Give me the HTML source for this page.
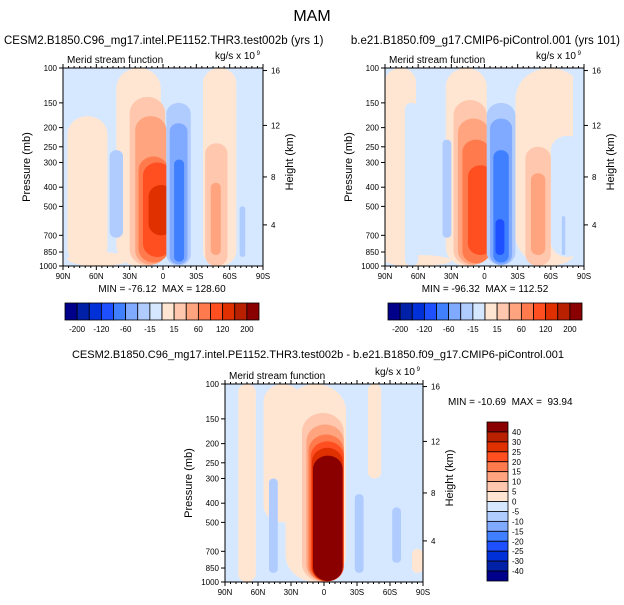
<!DOCTYPE html>
<html><head><meta charset="utf-8"><style>
body{margin:0;background:#fff}
svg{display:block;font-family:"Liberation Sans",sans-serif}
text{white-space:pre}
</style></head><body>
<svg id="c" width="624" height="605" viewBox="0 0 624 605"></svg>
<script>
// Color levels (index 0..15 => navy .. dark red)
const colors=["#00008a","#0020a8","#0030d8","#1e50ff","#4080ff","#80aaff","#b0ccff","#d6e8ff","#ffe6d2","#ffc8ae","#ffa47e","#ff7a4c","#ff4e20","#e03000","#b82000","#8a0000"];
const barLabelsA=["-200","-120","-60","-15","15","60","120","200"];
const barLabelsB=["40","30","25","20","15","10","5","0","-5","-10","-15","-20","-25","-30","-40"];
const pTicks=[100,150,200,250,300,400,500,700,850,1000];
const hTicks=[16,12,8,4];
const hTickP=[103,195,355,620];
const latTicks=[90,60,30,0,-30,-60,-90];
const latLabels=["90N","60N","30N","0","30S","60S","90S"];
// blobs: [latNorth, latSouth, pTop, pBottom, colorLevel]
const field1=[[86,50,175,1000,8],[86,30,850,1000,8],[42,2,100,1000,8],[-36,-66,100,1000,8],
[48,36,260,720,6],[30,-2,140,995,9],[25,-3,175,985,10],[22,-5,280,960,11],[18,-8,300,900,12],[13,-10,390,700,13],
[-3,-25,150,995,6],[-6,-22,190,980,5],[-10,-19,290,950,4],[-38,-58,240,1000,9],[-43,-52,380,880,10],[-69,-74,500,900,6]];
const field2=[[90,62,100,1000,8],[90,30,880,1000,8],[35,-2,100,1000,8],[-28,-90,100,1000,8],
[72,60,150,1000,7],[38,30,230,720,6],[-80,-90,100,1000,7],[-60,-90,220,900,7],
[28,-2,145,995,9],[24,-4,180,985,10],[20,-5,230,970,11],[15,-8,310,880,12],
[-2,-28,150,990,6],[-5,-25,180,985,5],[-8,-22,260,960,4],[-10,-18,580,880,3],
[-37,-60,250,1000,9],[-42,-55,340,880,10],[-70,-73,560,880,6]];
const field3=[[78,62,100,1000,8],[55,20,100,500,8],[35,-20,100,1000,8],[-40,-52,100,300,8],[-80,-90,680,900,8],
[50,42,300,900,6],[28,15,300,900,8],[20,-18,140,1000,9],[16,-18,160,995,10],[14,-18,180,995,11],[12,-18,195,992,12],[11,-17,210,990,13],[10,-17,230,988,15],
[-28,-36,360,900,6],[-62,-70,420,800,6]];

const svg=document.getElementById('c');
const NS="http://www.w3.org/2000/svg";
function el(tag,attrs,parent){const e=document.createElementNS(NS,tag);for(const k in attrs)e.setAttribute(k,attrs[k]);(parent||svg).appendChild(e);return e;}
function txt(x,y,s,size,anchor,parent,rot){const t=el('text',{x:x,y:y,'font-size':size,'text-anchor':anchor||'start',fill:'#000'},parent);if(rot)t.setAttribute('transform','rotate(-90 '+x+' '+y+')');t.textContent=s;return t;}

function panel(id,x0,y0,w,h,field){
  const g=el('g',{});
  
  
  const xs=lat=>x0+(90-lat)/180*w;
  const ys=p=>y0+Math.log(p/100)/Math.log(10)*h;
  const cp=el('clipPath',{id:id+'-clip'},g);
  el('rect',{x:x0,y:y0,width:w,height:h},cp);
  const fg=el('g',{'clip-path':'url(#'+id+'-clip)'},g);
  el('rect',{x:x0,y:y0,width:w,height:h,fill:colors[7]},fg);
  field.forEach(b=>{
    const x1=xs(b[0]),x2=xs(b[1]),y1=ys(b[2]),y2=ys(b[3]);
    const r=el('rect',{x:x1,y:y1,width:x2-x1,height:y2-y1,rx:(x2-x1)/2,ry:Math.min((x2-x1)*0.45,(y2-y1)/2),fill:colors[b[4]]},fg);
    
    
  });
  el('rect',{x:x0,y:y0,width:w,height:h,fill:'none',stroke:'#000','stroke-width':1},g);
  pTicks.forEach(p=>{const y=ys(p);el('line',{x1:x0-4,x2:x0,y1:y,y2:y,stroke:'#000'},g);txt(x0-6,y+3,String(p),8,'end',g);});
  hTicks.forEach((hv,i)=>{const y=ys(hTickP[i]);el('line',{x1:x0+w,x2:x0+w+4,y1:y,y2:y,stroke:'#000'},g);txt(x0+w+8,y+3,String(hv),8,'start',g);});
  latTicks.forEach((l,i)=>{const x=xs(l);el('line',{x1:x,x2:x,y1:y0+h,y2:y0+h+4,stroke:'#000'},g);txt(x,y0+h+13,latLabels[i],8,'middle',g);});
  for(let l=85;l>-90;l-=5){if(l%30===0)continue;const x=xs(l);el('line',{x1:x,x2:x,y1:y0+h,y2:y0+h+2,stroke:'#000'},g);el('line',{x1:x,x2:x,y1:y0,y2:y0-2,stroke:'#000'},g);}
  latTicks.forEach(l=>{const x=xs(l);el('line',{x1:x,x2:x,y1:y0,y2:y0-4,stroke:'#000'},g);});
  txt(x0+4,y0-5,'Merid stream function',10,'start',g);
  txt(x0+w-8,y0-9,'kg/s x 10',10,'end',g);
  txt(x0+w-3,y0-13,'9',6,'end',g);
  txt(x0-33,y0+h/2,'Pressure (mb)',11,'middle',g,true);
  txt(x0+w+30,y0+h/2-5,'Height (km)',11,'middle',g,true);
  return g;
}
function hbar(id,x0,y0,w,h){
  const g=el('g',{});
  
  
  const bw=w/16;
  colors.forEach((c,i)=>{el('rect',{x:x0+i*bw,y:y0,width:bw,height:h,fill:c,stroke:'#000','stroke-width':0.8},g);});
  barLabelsA.forEach((s,i)=>{txt(x0+(2*i+1)*bw,y0+h+12,s,8,'middle',g);});
}
function vbar(id,x0,y0,w,h){
  const g=el('g',{});
  
  
  const bh=h/16;
  for(let i=0;i<16;i++)el('rect',{x:x0,y:y0+i*bh,width:w,height:bh,fill:colors[15-i],stroke:'#000','stroke-width':0.8},g);
  barLabelsB.forEach((s,i)=>{txt(x0+w+4,y0+(i+1)*bh+3,s,8,'start',g);});
}
const t=txt(312,21,'MAM',16,'middle');
const t1=txt(4,44,'CESM2.B1850.C96_mg17.intel.PE1152.THR3.test002b (yrs 1)',11.5,'start');
const t2=txt(620,44,'b.e21.B1850.f09_g17.CMIP6-piControl.001 (yrs 101)',11.5,'end');
const t3=txt(318,358,'CESM2.B1850.C96_mg17.intel.PE1152.THR3.test002b - b.e21.B1850.f09_g17.CMIP6-piControl.001',11,'middle');
panel('panel-test',63,68,200,198,field1);
panel('panel-control',385,68,199,198,field2);
panel('panel-diff',225,384,198,198,field3);
const m1=txt(162,292,'MIN = -76.12  MAX = 128.60',10,'middle');
const m2=txt(485,292,'MIN = -96.32  MAX = 112.52',10,'middle');
const m3=txt(448,405,'MIN = -10.69  MAX =  93.94',10,'start');
hbar('colorbar-1',65,303,194,17);
hbar('colorbar-2',388,303,194,17);
vbar('colorbar-diff',487,422,21,159);
</script>
</body></html>
